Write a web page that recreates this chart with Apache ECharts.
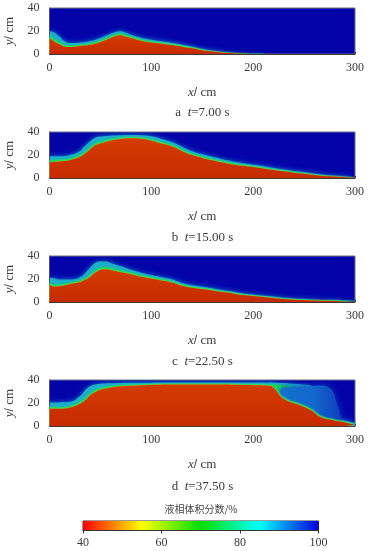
<!DOCTYPE html>
<html><head><meta charset="utf-8">
<style>html,body{margin:0;padding:0;background:#fff}#c{width:368px;height:551px}</style>
<script src="https://cdn.jsdelivr.net/npm/echarts@6/dist/echarts.min.js"></script>
</head><body><div id="c"></div>
<script>
// Tick labels
const xTicksMax = 300, yTicksMax = 40;
const barTicks = [40, 60, 80, 100];
const captions = [['a','7.00'],['b','15.00'],['c','22.50'],['d','37.50']];
const colorTitle = '液相体积分数/%';

// Panel a, t=7.00 s : layer heights (cm)
const aX     = [0,5,10,15,20,30,40,50,60,65,70,75,80,90,100,110,120,130,140,150,160,170,180,190,200,220,300];
const aRed   = [13.6,10.7,8.4,6.4,6,7,8,10.5,14,15.6,16.2,15,14,11.6,10,9,7.8,6.4,5,3.3,2.2,1.3,.7,.3,.1,0,0];
const aGreen = [16,13,10.5,8,7.4,8.2,9.4,12,15.6,17.2,17.8,16.5,15.2,12.8,11.1,9.9,8.6,7.1,5.6,3.8,2.5,1.5,.8,.35,.12,0,0];
const aCyan  = [20,18.5,15,11,9.5,9.8,11.2,14,17.6,19.2,19.8,18.4,16.8,14.2,12.4,11,9.7,8.1,6.4,4.4,2.9,1.8,1,.45,.18,0,0];
const aHalo  = [21.5,21.5,21,19.5,17,14,14,16.5,20.5,22,22.5,21,19,16.5,14.5,13,11.4,9.6,7.4,5.2,3.4,2.1,1.2,.6,.25,0,0];

// Panel b, t=15.00 s
const bX     = [0,10,20,30,35,40,45,50,60,70,80,90,100,110,120,132,140,150,160,170,180,190,200,210,220,230,240,250,260,270,280,290,300];
const bRed   = [13.8,14.4,15.5,18.4,21.3,25,28.5,30,32.5,34,34.5,34.2,32.5,30,27.6,22.7,19.9,17.5,15.5,13.5,11.8,10.6,9.5,8.3,6.9,5.8,4.6,3.7,2.6,1.7,1.2,.6,.3];
const bGreen = [15.5,16,17.2,20.4,23.6,27.2,30.4,32,34,35.2,35.6,35.3,33.8,31.5,29,24.2,21.3,18.8,16.7,14.7,12.9,11.6,10.4,9.2,7.7,6.5,5.2,4.2,3,2.1,1.5,.85,.5];
const bCyan  = [19,19,20,23.5,28,32,35,36,36.8,37.2,37.4,37.2,36.2,34,31.2,26.4,23.3,20.6,18.4,16.2,14.4,12.9,11.6,10.3,8.7,7.4,6,4.9,3.6,2.5,1.9,1.2,.8];
const bHalo  = [20.5,20.5,21,26,33,37.5,38.6,38.8,39,39,39,39,38.3,36.6,33.8,29,25.6,22.8,20.4,18,16,14.4,13.1,11.6,10,8.6,7,5.8,4.3,3.1,2.3,1.5,1];

// Panel c, t=22.50 s
const cX     = [0,5,10,20,30,35,40,45,50,55,60,70,80,90,100,110,120,132,140,150,160,170,180,190,200,210,220,230,240,250,260,280,300];
const cRed   = [15,13.5,13.8,15.5,17.3,19.3,22,25.6,27.9,28.5,27.9,25.9,24.2,22,20.4,18.7,17,13.6,12.4,11.2,10,8.6,7.5,6,5.2,4.3,3.5,2.6,2,1.7,1.2,.9,.6];
const cGreen = [16.8,15.2,15.3,17,19,21,24,27.6,30,30.5,29.8,27.6,25.8,23.4,21.7,19.9,18.1,14.7,13.4,12.1,10.8,9.4,8.2,6.6,5.7,4.8,3.9,3,2.4,2,1.5,1.2,.9];
const cCyan  = [21,20.5,19.5,19.5,21.5,25,30,34,35.2,35.2,34,31,28,25.5,23.4,21.5,19.7,16,14.6,13.2,11.8,10.3,9,7.4,6.4,5.4,4.5,3.5,2.8,2.4,2,1.6,1.3];
const cHalo  = [22.5,22.5,22,21,24,30,35.5,37.5,38.2,38.2,37.4,34,31,28,25.8,23.6,21.6,17.8,16.2,14.8,13.3,11.7,10.3,8.6,7.5,6.4,5.4,4.3,3.5,3.1,2.6,2.3,2];

// Panel d, t=37.50 s
const dX     = [0,10,20,30,35,40,45,50,60,70,80,100,130,160,200,215,219,230,246,258,266,279,290,299,300];
const dRed   = [15,15,16,19.4,22.3,26.7,29.6,31.6,33.3,34.5,35,35.7,36,36,35.4,35,34,23.8,18,13,7.8,4.9,3,1.2,1];
const dGreen = [16.5,16.5,17.5,21.3,24.6,28.8,31.5,33,34.5,35.4,35.8,36.4,36.7,36.7,36.2,35.8,35.2,24.9,19.3,14.4,9.2,5.8,3.8,1.9,1.6];
const dCyan  = [20.5,20.5,21,26,31,34.5,36,36.8,37.2,37.5,37.6,37.7,37.8,37.8,37.8,37.6,37,26.2,20.6,15.8,10.6,6.8,4.6,2.8,2.4];
const dHalo  = [22,22,23,32,36,37.8,38.2,38.4,38.5,38.5,38.5,38.5,38.5,38.5,38.5,38.5,38.5,38.3,38,37.5,37,30,7,3.6,3];
// overhanging tongue and pocket behind the front of panel d
const dTongueX = [215,222,235,248,258,262];
const dTongue  = [37.8,37.6,37,36,34,0];
const dInnerX  = [218,222,230,238,243];
const dInner   = [36.4,36.2,35.6,34.8,0];
const dPocketX = [224,228,235,245,255,265,275,282,288];
const dPocket  = [0,32.5,33.5,33.8,34.5,35.2,33,20,0];

// Colour bar
const barX = [40,100];
const barY = [1,1];

const C = {blue:'#0303a8', halo:'#0f42c2', cyan:'#1caec8', green:'#14d264', lime:'#c8e010', ink:'#3a3a3a'};
const redFill = () => new echarts.graphic.LinearGradient(0,0,0,1,[{offset:0,color:'#d43c00'},{offset:1,color:'#c62a00'}]);
const pocketFill = () => new echarts.graphic.LinearGradient(0,0,1,0,[{offset:0,color:'#1272cc'},{offset:.55,color:'#1268cc'},{offset:1,color:'#0c3cbc'}]);
const serif = '"Liberation Serif","Times New Roman",serif';
const grids = [{t:8,h:46},{t:132,h:46},{t:256,h:46},{t:380,h:46}];
const capYs = [113,238,362,487];
const panels = [
  {x:aX,halo:aHalo,cyan:aCyan,green:aGreen,red:aRed},
  {x:bX,halo:bHalo,cyan:bCyan,green:bGreen,red:bRed},
  {x:cX,halo:cHalo,cyan:cCyan,green:cGreen,red:cRed},
  {x:dX,halo:dHalo,cyan:dCyan,green:dGreen,red:dRed}
];
const zip = (xs,ys)=>xs.map((v,i)=>[v,ys[i]]);
const layer = (idx,xs,ys,fill,glow,blur,z)=>({
  type:'line',xAxisIndex:idx,yAxisIndex:idx,data:zip(xs,ys),showSymbol:false,symbol:'none',
  smooth:0.5,z:z,silent:true,
  lineStyle:{width:0,opacity:0},
  areaStyle:{color:fill,opacity:1,shadowBlur:blur,shadowColor:glow}
});
const grid=[],xAxis=[],yAxis=[],series=[],graphic=[];
const nameRich={i:{fontFamily:serif,fontStyle:'italic',fontSize:13,color:C.ink},n:{fontFamily:serif,fontSize:13,color:C.ink}};
grids.forEach((g,i)=>{
  grid.push({left:49.5,width:305.5,top:g.t,height:g.h,show:true,outerBoundsMode:'none',backgroundColor:C.blue,borderColor:'#6a7085',borderWidth:1,z:3});
  xAxis.push({gridIndex:i,type:'value',min:0,max:xTicksMax,interval:100,z:6,
    name:'{i|x}/ {n|cm}',nameLocation:'middle',nameGap:32,nameTextStyle:{rich:nameRich,color:C.ink},
    axisLine:{show:true,lineStyle:{color:'#403838',width:1}},
    axisTick:{show:true,inside:true,length:2,lineStyle:{color:'#403838'}},
    axisLabel:{fontFamily:serif,fontSize:12,color:C.ink,margin:8},splitLine:{show:false}});
  yAxis.push({gridIndex:i,type:'value',min:0,max:yTicksMax,interval:20,z:6,
    name:'{i|y}/ {n|cm}',nameLocation:'middle',nameGap:33,nameTextStyle:{rich:nameRich,color:C.ink},
    axisLine:{show:true,lineStyle:{color:'#50505a',width:1}},axisTick:{show:false},
    axisLabel:{fontFamily:serif,fontSize:12,color:C.ink,margin:10},splitLine:{show:false}});
  const p=panels[i];
  series.push(layer(i,p.x,p.halo,C.halo,C.halo,6,2));
  series.push(layer(i,p.x,p.cyan,C.cyan,'#1480d0',5,3));
  if(i===3){
    series.push(layer(i,dTongueX,dTongue,C.cyan,'#1480d0',3,4));
    series.push(layer(i,dInnerX,dInner,C.green,C.cyan,2,5));
    series.push(layer(i,dPocketX,dPocket,pocketFill(),'#0c3cbc',7,6));
  }
  series.push(layer(i,p.x,p.green,C.green,'#18c8a8',2,7));
  series.push(layer(i,p.x,p.red,redFill(),C.lime,2,8));
  graphic.push({type:'text',x:202.5,y:capYs[i],style:{
    text:captions[i][0]+'  {i|t}{n|='+captions[i][1]+' s}',
    font:'13px '+serif,fill:C.ink,align:'center',verticalAlign:'middle',
    rich:{i:{font:'italic 13px '+serif,fill:C.ink},n:{font:'13px '+serif,fill:C.ink}}}});
});
// colour bar
grid.push({left:83,width:235.5,top:521,height:9.5,show:true,outerBoundsMode:'none',borderColor:'#333',borderWidth:1,z:3});
xAxis.push({gridIndex:4,type:'value',min:40,max:100,interval:20,z:6,
  axisLine:{show:true,lineStyle:{color:'#333'}},
  axisTick:{show:true,length:3,lineStyle:{color:'#333'}},
  axisLabel:{fontFamily:serif,fontSize:12,color:C.ink,margin:6,customValues:barTicks},splitLine:{show:false}});
yAxis.push({gridIndex:4,type:'value',min:0,max:1,show:false});
series.push({type:'line',xAxisIndex:4,yAxisIndex:4,data:zip(barX,barY),symbol:'none',showSymbol:false,silent:true,
  lineStyle:{width:0,opacity:0},
  areaStyle:{opacity:1,color:new echarts.graphic.LinearGradient(0,0,1,0,[
    {offset:0,color:'#ff0000'},{offset:.25,color:'#ffff00'},{offset:.5,color:'#00e000'},
    {offset:.75,color:'#00ffff'},{offset:1,color:'#0000e0'}])}});
graphic.push({type:'text',x:201,y:509,style:{text:colorTitle,font:'10px "Noto Sans CJK SC"',fill:'#444',align:'center',verticalAlign:'middle'}});

const chart=echarts.init(document.getElementById('c'),null,{renderer:'canvas'});
chart.setOption({animation:false,backgroundColor:'#fff',grid,xAxis,yAxis,series,graphic});
</script></body></html>
